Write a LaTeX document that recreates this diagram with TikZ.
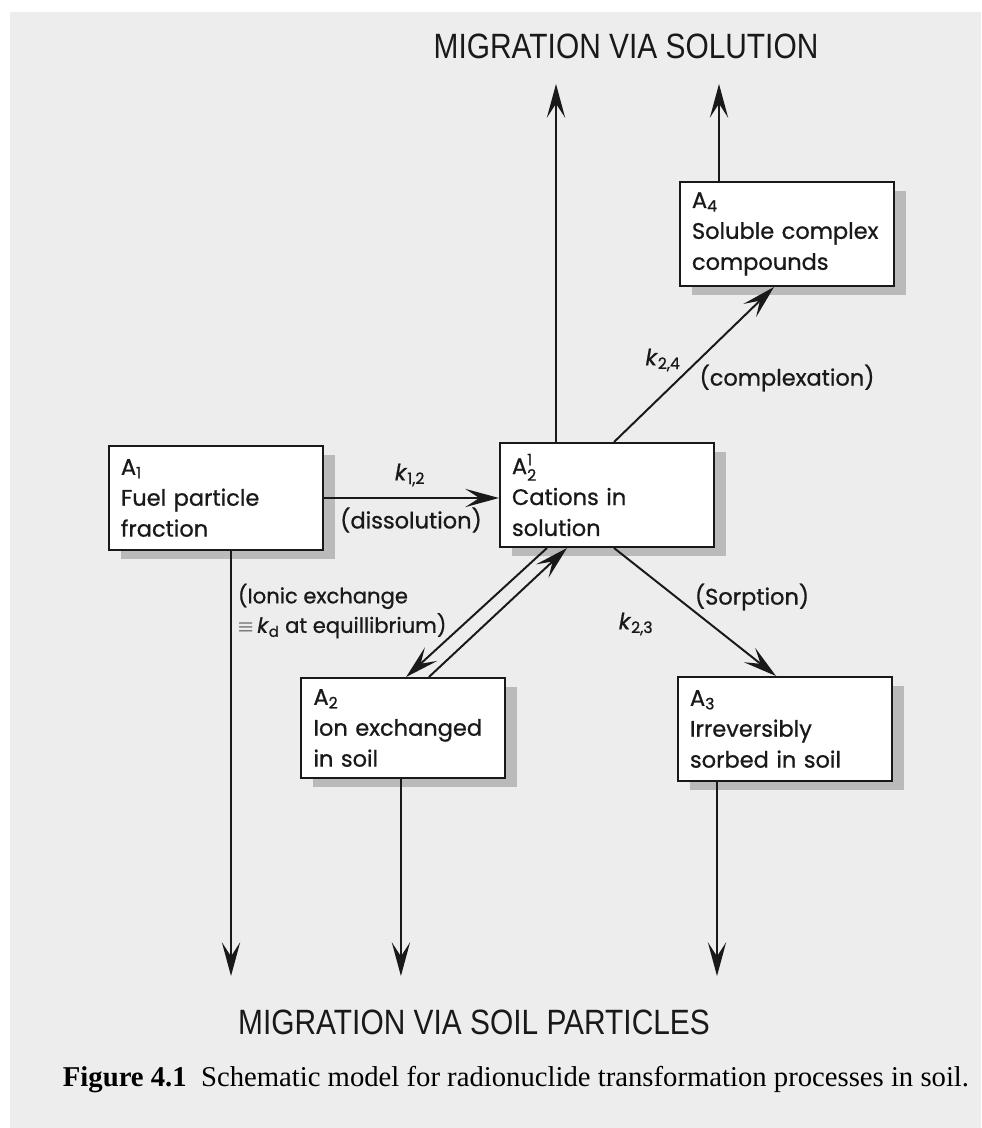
\documentclass[tikz,border=0pt]{standalone}
\usepackage{amsmath}
\usepackage{fontspec}
\setmainfont{Liberation Serif}
\newfontfamily\boxfont[FakeBold=0.8]{Poppins}
\newfontfamily\titlefont[FakeStretch=0.85]{Liberation Sans}
\usetikzlibrary{arrows.meta,positioning,shadows}

\begin{document}
\begin{tikzpicture}[x=0.025cm,y=-0.025cm,
box/.style={draw=black!90,fill=white,line width=1.4pt,align=left,
  inner xsep=0.3cm,text width=4.75cm,minimum height=2.6cm,
  font=\boxfont\fontsize{16}{22}\selectfont,text=black!90,
  drop shadow={shadow xshift=0.3cm,shadow yshift=-0.23cm,fill=black!27,opacity=1}},
lbl/.style={font=\boxfont\fontsize{16}{21}\selectfont,text=black!90},
flow/.style={line width=1.4pt,draw=black!90,-{Stealth[length=24pt,width=13pt,inset=10pt]}},
title/.style={font=\titlefont\fontsize{25}{30}\selectfont,text=black!90}]
\useasboundingbox (0,0) rectangle (981,1128);
\fill[white] (0,0) rectangle (981,1128);
\fill[black!7] (10,12) rectangle (981,1128);

% compartments
\node[box] (A1) at (216,498) {A$_{\text{1}}$\\Fuel particle\\fraction};
\node[box] (A21) at (607,495) {A$^{\text{1}}_{\text{2}}$\\Cations in\\solution};
\node[box] (A4) at (787,234) {A$_{\text{4}}$\\Soluble complex\\compounds};
\node[box,text width=4.475cm,minimum height=2.5cm] (A2) at (403,728) {A$_{\text{2}}$\\Ion exchanged\\in soil};
\node[box] (A3) at (785,729) {A$_{\text{3}}$\\Irreversibly\\sorbed in soil};

% titles
\node[title] (sol) at (626,46) {MIGRATION VIA SOLUTION};
\node[title] (soil) at (474,1022) {MIGRATION VIA SOIL PARTICLES};
\node[font=\fontsize{20.4}{24}\selectfont] (cap) at (516,1080)
  {\textbf{Figure 4.1}\ \ Schematic model for radionuclide transformation processes in soil.};

% transfers
\draw[flow] (A1.east) -- (A1.east -| A21.west);
\draw[flow] ([xshift=2.875cm]A21.north west) -- ([xshift=2.375cm]A4.south west);
\draw[flow] ([xshift=2.875cm]A21.south west) -- ([xshift=2.475cm]A3.north west);
\draw[flow] ([xshift=1.2cm]A21.south west) -- ([xshift=2.64cm]A2.north west);
\draw[flow] ([xshift=3.21cm]A2.north west) -- ([xshift=1.7cm]A21.south west);
\draw[flow] ([xshift=1.425cm]A21.north west) -- ++(0,-358);
\draw[flow] ([xshift=1cm]A4.north west) -- ++(0,-97);
\draw[flow] ([xshift=3.075cm]A1.south west) -- ++(0,425);
\draw[flow] ([xshift=2.51cm]A2.south west) -- ++(0,197);
\draw[flow] ([xshift=1cm]A3.south west) -- ++(0,194);

% rate labels
\node[lbl] (k12) at (410,475) {\textit{k}$_{\text{1,2}}$};
\node[lbl] (dis) at (411,520) {(dissolution)};
\node[lbl] (k24) at (663,360) {\textit{k}$_{\text{2,4}}$};
\node[lbl] (cpx) at (787,378) {(complexation)};
\node[lbl,anchor=west,align=left,font=\boxfont\fontsize{15}{21}\selectfont] (ion) at (233,611)
  {(Ionic exchange\\$\equiv$\,\textit{k}$_{\text{d}}$ at equillibrium)};
\node[lbl] (sor) at (752,597) {(Sorption)};
\node[lbl] (k23) at (636,624) {\textit{k}$_{\text{2,3}}$};
\end{tikzpicture}
\end{document}
